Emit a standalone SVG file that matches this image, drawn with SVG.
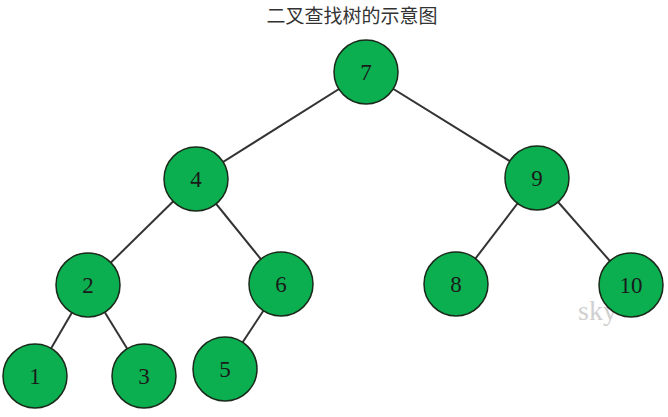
<svg xmlns="http://www.w3.org/2000/svg" width="668" height="417" viewBox="0 0 668 417">
<style>
.n circle{fill:#0BAF50;stroke:#1a2a1a;stroke-width:1.5}
.n text{font-family:"Liberation Serif","DejaVu Serif",serif;font-size:23px;fill:#1a1a1a;text-anchor:middle;dominant-baseline:central}
.e line{stroke:#333;stroke-width:2}
.t{font-family:"Liberation Sans","Noto Sans CJK SC",sans-serif;font-size:19px;fill:#333;text-anchor:middle}
.w{font-family:"Liberation Serif",serif;font-size:28px;fill:#d0d0d0}
</style>
<rect width="668" height="417" fill="#fff"/>
<text class="t" x="352" y="23">二叉查找树的示意图</text>
<text class="w" x="578" y="320">sky</text>
<g id="edges" class="e">
<line x1="366" y1="72" x2="196" y2="179"/>
<line x1="366" y1="72" x2="537" y2="178"/>
<line x1="196" y1="179" x2="88" y2="285"/>
<line x1="196" y1="179" x2="281" y2="284"/>
<line x1="537" y1="178" x2="456" y2="284"/>
<line x1="537" y1="178" x2="631" y2="285"/>
<line x1="88" y1="285" x2="35" y2="376"/>
<line x1="88" y1="285" x2="144" y2="376"/>
<line x1="281" y1="284" x2="225" y2="369"/>
</g>
<g id="n7" class="n"><circle cx="366" cy="72" r="32"/><text x="366" y="72">7</text></g>
<g id="n4" class="n"><circle cx="196" cy="179" r="32"/><text x="196" y="179">4</text></g>
<g id="n9" class="n"><circle cx="537" cy="178" r="32"/><text x="537" y="178">9</text></g>
<g id="n2" class="n"><circle cx="88" cy="285" r="32"/><text x="88" y="285">2</text></g>
<g id="n6" class="n"><circle cx="281" cy="284" r="32"/><text x="281" y="284">6</text></g>
<g id="n8" class="n"><circle cx="456" cy="284" r="32"/><text x="456" y="284">8</text></g>
<g id="n10" class="n"><circle cx="631" cy="285" r="32"/><text x="631" y="285">10</text></g>
<g id="n1" class="n"><circle cx="35" cy="376" r="32"/><text x="35" y="376">1</text></g>
<g id="n3" class="n"><circle cx="144" cy="376" r="32"/><text x="144" y="376">3</text></g>
<g id="n5" class="n"><circle cx="225" cy="369" r="32"/><text x="225" y="369">5</text></g>
</svg>
